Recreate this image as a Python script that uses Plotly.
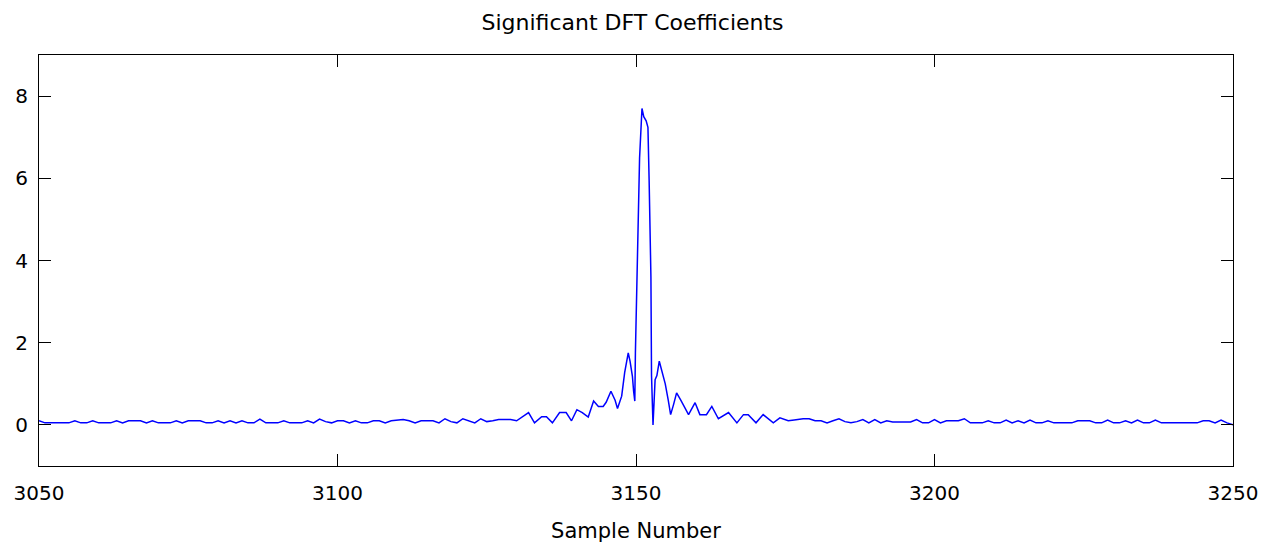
import plotly.graph_objects as go

# Sample positions and DFT coefficient magnitudes
sample_x = [
    3050, 3051, 3052, 3053, 3054, 3055, 3056, 3057, 3058, 3059, 3060, 3061, 3062, 3063, 3064,
    3065, 3066, 3067, 3068, 3069, 3070, 3071, 3072, 3073, 3074, 3075, 3076, 3077, 3078, 3079,
    3080, 3081, 3082, 3083, 3084, 3085, 3086, 3087, 3088, 3089, 3090, 3091, 3092, 3093, 3094,
    3095, 3096, 3097, 3098, 3099, 3100, 3101, 3102, 3103, 3104, 3105, 3106, 3107, 3108, 3109,
    3110, 3111, 3112, 3113, 3114, 3115, 3116, 3117, 3118, 3119, 3120, 3121, 3122, 3123, 3124,
    3125, 3126, 3127, 3128, 3129, 3130, 3131, 3132, 3133, 3134.2, 3135, 3136, 3137.2, 3138.3,
    3139.2, 3140.1, 3141, 3142, 3142.9, 3143.7, 3144.5, 3145, 3145.8, 3146.5, 3146.9, 3147.6,
    3148.1, 3148.7, 3149.0, 3149.4, 3149.6, 3149.8, 3149.9, 3150.3, 3150.6, 3151.0, 3151.3,
    3151.7, 3152.0, 3152.2, 3152.5, 3152.6, 3152.85, 3153.2, 3153.5, 3153.9, 3154.3, 3154.9,
    3155.4, 3155.8, 3156.3, 3156.8, 3157.5, 3158.2, 3158.8, 3159.9, 3160.7, 3161.8, 3162.7,
    3163.8, 3165.5, 3166.9, 3168, 3168.8, 3170.1, 3171.3, 3173, 3174.1, 3175.5, 3176.5, 3178,
    3179, 3180, 3181, 3182, 3183, 3184, 3185, 3186, 3187, 3188, 3189, 3190, 3191, 3192, 3193,
    3194, 3195, 3196, 3197, 3198, 3199, 3200, 3201, 3202, 3203, 3204, 3205, 3206, 3207, 3208,
    3209, 3210, 3211, 3212, 3213, 3214, 3215, 3216, 3217, 3218, 3219, 3220, 3221, 3222, 3223,
    3224, 3225, 3226, 3227, 3228, 3229, 3230, 3231, 3232, 3233, 3234, 3235, 3236, 3237, 3238,
    3239, 3240, 3241, 3242, 3243, 3244, 3245, 3246, 3247, 3248, 3249, 3250,
]
coeff_y = [
    0.10, 0.05, 0.05, 0.05, 0.05, 0.05, 0.10, 0.05, 0.05, 0.10, 0.05, 0.05, 0.05, 0.10, 0.05,
    0.10, 0.10, 0.10, 0.05, 0.10, 0.05, 0.05, 0.05, 0.10, 0.05, 0.10, 0.10, 0.10, 0.05, 0.05,
    0.10, 0.05, 0.10, 0.05, 0.10, 0.05, 0.05, 0.14, 0.05, 0.05, 0.05, 0.10, 0.05, 0.05, 0.05,
    0.10, 0.05, 0.14, 0.08, 0.05, 0.10, 0.10, 0.05, 0.10, 0.05, 0.05, 0.10, 0.10, 0.05, 0.10,
    0.12, 0.13, 0.10, 0.05, 0.10, 0.10, 0.10, 0.05, 0.15, 0.08, 0.05, 0.15, 0.10, 0.05, 0.15,
    0.08, 0.10, 0.13, 0.13, 0.13, 0.10, 0.20, 0.30, 0.05, 0.20, 0.20, 0.05, 0.30, 0.30,
    0.10, 0.37, 0.30, 0.19, 0.58, 0.45, 0.45, 0.55, 0.82, 0.60, 0.40, 0.70,
    1.27, 1.75, 1.55, 1.18, 0.82, 0.58, 1.75, 4.08, 6.50, 7.70, 7.50,
    7.40, 7.24, 5.95, 3.60, 1.20, 0.00, 1.10, 1.20, 1.55, 1.30, 1.00,
    0.60, 0.25, 0.50, 0.78, 0.60, 0.40, 0.25, 0.54, 0.25, 0.25, 0.45,
    0.15, 0.30, 0.05, 0.25, 0.25, 0.05, 0.25, 0.05, 0.17, 0.10, 0.12, 0.15,
    0.15, 0.10, 0.10, 0.05, 0.10, 0.15, 0.08, 0.05, 0.08, 0.13, 0.05, 0.13, 0.05, 0.10, 0.07,
    0.07, 0.07, 0.07, 0.13, 0.05, 0.05, 0.13, 0.05, 0.10, 0.10, 0.10, 0.15, 0.05, 0.05, 0.05,
    0.10, 0.05, 0.05, 0.12, 0.05, 0.10, 0.05, 0.12, 0.05, 0.05, 0.10, 0.05, 0.05, 0.05, 0.05,
    0.10, 0.10, 0.10, 0.05, 0.05, 0.12, 0.05, 0.05, 0.10, 0.05, 0.12, 0.05, 0.05, 0.12, 0.05,
    0.05, 0.05, 0.05, 0.05, 0.05, 0.05, 0.10, 0.10, 0.05, 0.12, 0.05, 0.00,
]

x_ticks = [3050, 3100, 3150, 3200, 3250]
y_ticks = [0, 2, 4, 6, 8]

FONT = "DejaVu Sans"

fig = go.Figure()
fig.add_trace(go.Scatter(
    x=sample_x, y=coeff_y, mode="lines",
    line=dict(color="#0000ff", width=1.5),
    showlegend=False, hoverinfo="skip",
))

axis_common = dict(
    showline=True, linecolor="black", linewidth=1, mirror="ticks",
    ticks="inside", ticklen=12, tickwidth=1, tickcolor="black",
    showgrid=False, zeroline=False, automargin=False,
    tickfont=dict(family=FONT, size=20, color="black"),
)

fig.update_layout(
    width=1265, height=547,
    margin=dict(l=39, r=32, t=55, b=81),
    paper_bgcolor="white", plot_bgcolor="white",
    title=dict(text="Significant DFT Coefficients", x=0.5, xanchor="center",
               y=1 - 22 / 547, yanchor="middle",
               font=dict(family=FONT, size=22, color="black")),
    xaxis=dict(range=[3050, 3250], tickvals=x_ticks, ticktext=[str(v) for v in x_ticks],
               title=dict(text="Sample Number", standoff=19,
                          font=dict(family=FONT, size=21, color="black")),
               ticklabelstandoff=9,
               **axis_common),
    yaxis=dict(range=[-1, 9], tickvals=y_ticks, ticktext=[str(v) for v in y_ticks],
               ticklabelstandoff=6,
               **axis_common),
)

fig.write_html("out.html")
